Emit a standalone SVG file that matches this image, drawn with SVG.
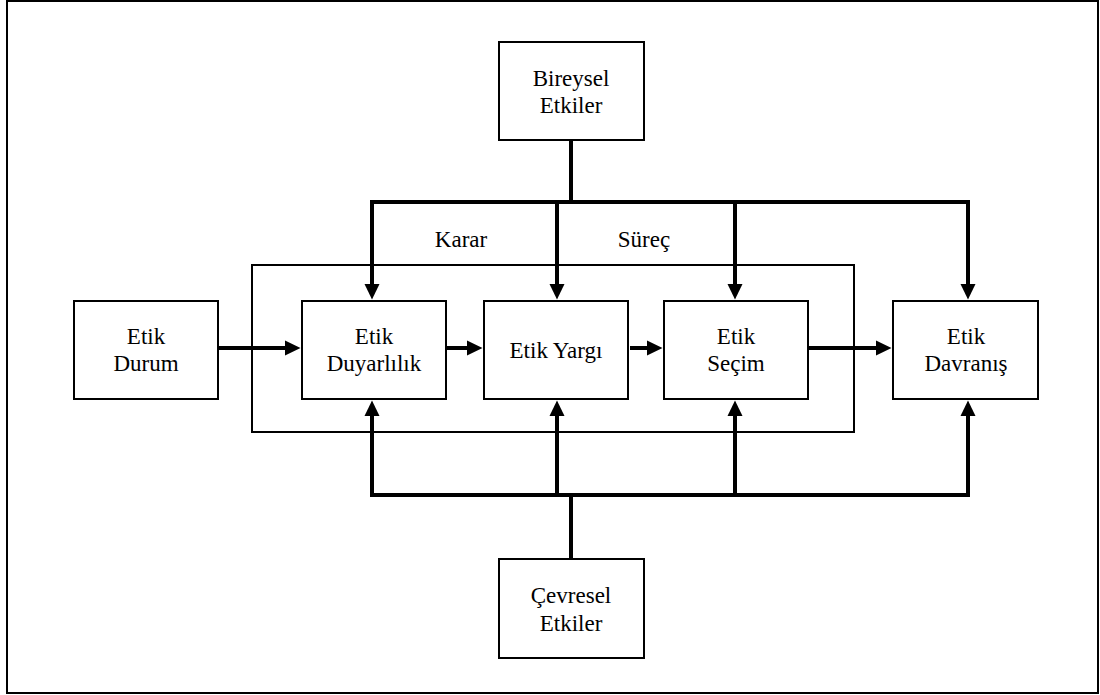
<svg xmlns="http://www.w3.org/2000/svg" width="1100" height="695" viewBox="0 0 1100 695">
<style>
.box{fill:#fff;stroke:#000;stroke-width:2}
.frame{fill:none;stroke:#000;stroke-width:2}
text{font-family:'Liberation Serif','Times New Roman',serif;font-size:23px;fill:#000;text-anchor:middle}
.c{fill:none;stroke:#000;stroke-width:4}
.a{fill:none;stroke:#000;stroke-width:4;marker-end:url(#ah)}
</style>
<defs>
<marker id="ah" markerUnits="userSpaceOnUse" markerWidth="16" markerHeight="16" viewBox="0 0 16 16" refX="5" refY="8" orient="auto">
<path d="M0,0.5 L15.5,8 L0,15.5 z" fill="#000"/>
</marker>
</defs>
<rect x="7" y="1" width="1091" height="692" fill="#fff" stroke="#000" stroke-width="2"/>
<rect class="frame" x="252" y="265" width="602" height="167"/>
<text x="461" y="247">Karar</text>
<text x="644" y="247">Süreç</text>
<g id="connectors">
<path class="c" d="M571,140 V202"/>
<path class="c" d="M372,202 H968" stroke-linecap="square"/>
<path class="a" d="M372,202 V289"/>
<path class="a" d="M557,202 V289"/>
<path class="a" d="M735,202 V289"/>
<path class="a" d="M968,202 V289"/>
<path class="c" d="M571,559 V495"/>
<path class="c" d="M372,495 H968" stroke-linecap="square"/>
<path class="a" d="M372,495 V411"/>
<path class="a" d="M557,495 V411"/>
<path class="a" d="M735,495 V411"/>
<path class="a" d="M968,495 V411"/>
<path class="a" d="M218,348 H290"/>
<path class="a" d="M447,348 H472"/>
<path class="a" d="M630,348 H652"/>
<path class="a" d="M808,348 H881"/>
</g>
<g id="bireysel">
<rect class="box" x="499" y="42" width="145" height="98"/>
<text x="571" y="86">Bireysel</text>
<text x="571" y="113">Etkiler</text>
</g>
<g id="durum">
<rect class="box" x="74" y="301" width="144" height="98"/>
<text x="146" y="344">Etik</text>
<text x="146" y="371">Durum</text>
</g>
<g id="duyarlilik">
<rect class="box" x="302" y="301" width="144" height="98"/>
<text x="374" y="344">Etik</text>
<text x="374" y="371">Duyarlılık</text>
</g>
<g id="yargi">
<rect class="box" x="484" y="301" width="144" height="98"/>
<text x="556" y="358">Etik Yargı</text>
</g>
<g id="secim">
<rect class="box" x="664" y="301" width="144" height="98"/>
<text x="736" y="344">Etik</text>
<text x="736" y="371">Seçim</text>
</g>
<g id="davranis">
<rect class="box" x="893" y="301" width="145" height="98"/>
<text x="966" y="344">Etik</text>
<text x="966" y="371">Davranış</text>
</g>
<g id="cevresel">
<rect class="box" x="499" y="559" width="145" height="99"/>
<text x="571" y="603">Çevresel</text>
<text x="571" y="631">Etkiler</text>
</g>
</svg>
